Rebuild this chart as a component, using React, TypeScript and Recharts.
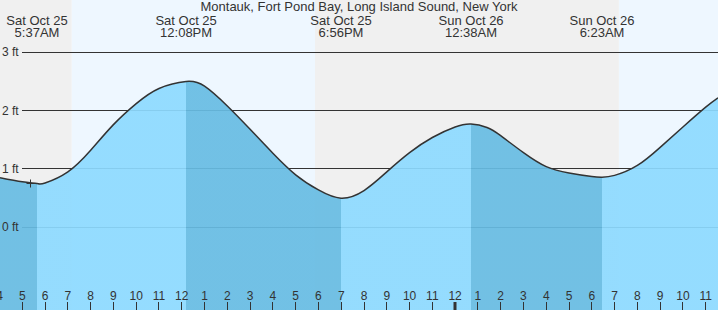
import React from 'react';
import {
  ComposedChart,
  Area,
  XAxis,
  YAxis,
  ReferenceLine,
  ReferenceArea,
  ReferenceDot,
} from 'recharts';

// ---- data (hours since Sat Oct 25 00:00) ----
const TIMES = [4.02, 5, 5.645, 6, 7, 8, 9, 10, 11, 12.19, 13, 14, 15, 16, 17, 18, 18.99, 20, 21, 22, 23, 24, 24.7, 25.4, 26, 27, 28, 29, 30, 30.45, 31, 32, 33, 34, 35, 35.54];
const LEVELS = [0.85, 0.78, 0.75, 0.76, 0.95, 1.32, 1.76, 2.12, 2.38, 2.5, 2.42, 2.08, 1.68, 1.27, 0.9, 0.64, 0.5, 0.63, 0.95, 1.28, 1.54, 1.72, 1.77, 1.71, 1.57, 1.28, 1.04, 0.93, 0.87, 0.86, 0.89, 1.06, 1.37, 1.72, 2.06, 2.22];

const EXTREME_TIMES = [5.645, 12.19, 18.99, 24.7, 30.45];
const EXTREME_KIND = ['L', 'H', 'L', 'H', 'L'];
const EXTREME_DAY = ['Sat Oct 25', 'Sat Oct 25', 'Sat Oct 25', 'Sun Oct 26', 'Sun Oct 26'];
const EXTREME_CLOCK = ['5:37AM', '12:08PM', '6:56PM', '12:38AM', '6:23AM'];

const NIGHT_SPANS = [[4.02, 7.17], [17.85, 31.19]];
const DAY_SPANS = [[7.17, 17.85], [31.19, 35.54]];

const HOUR_TICKS = [4, 5, 6, 7, 8, 9, 10, 11, 12, 13, 14, 15, 16, 17, 18, 19, 20, 21, 22, 23, 24, 25, 26, 27, 28, 29, 30, 31, 32, 33, 34, 35];
const HOUR_LABELS = ['4', '5', '6', '7', '8', '9', '10', '11', '12', '1', '2', '3', '4', '5', '6', '7', '8', '9', '10', '11', '12', '1', '2', '3', '4', '5', '6', '7', '8', '9', '10', '11'];

const Y_TICKS = [0, 1, 2, 3];
const Y_LABELS = ['0 ft', '1 ft', '2 ft', '3 ft'];

const NOW_TIME = 5.34;
const NOW_LEVEL = 0.754;

const TITLE = 'Montauk, Fort Pond Bay, Long Island Sound, New York';

// ---- layout / style ----
const CHART_W = 718;
const CHART_H = 310;
const X_MIN = 4.02;
const X_MAX = 35.54;
const Y_MIN = -1.418;
const Y_MAX = 3.897;
const FONT = '"Liberation Sans", Arial, sans-serif';
const TEXT = '#333333';
const LIGHT_FILL = '#8ddaff';
const DARK_FILL = '#67bce3';
const NIGHT_BG = '#f0f0f0';
const DAY_BG = '#eef7ff';
const GRID_START = 22;

const data = TIMES.map((t, i) => ({ t, v: LEVELS[i] }));

const span = X_MAX - X_MIN;
const bounds = [X_MIN, ...EXTREME_TIMES, X_MAX];
const segColors = bounds.slice(0, -1).map((_, i) => {
  if (i === 0) return EXTREME_KIND[0] === 'L' ? DARK_FILL : LIGHT_FILL;
  return EXTREME_KIND[i - 1] === 'L' ? LIGHT_FILL : DARK_FILL;
});

const HourTick = (props: any) => {
  const { x, y, payload } = props;
  const idx = HOUR_TICKS.indexOf(payload.value);
  const isMid = payload.value === 24;
  const px = isMid ? Math.round(x) : Math.round(x - 0.5) + 0.5;
  return (
    <g>
      <line x1={px} x2={px} y1={y - 8} y2={y} stroke={TEXT} strokeWidth={isMid ? 3 : 1} />
      <text x={x} y={y - 10} textAnchor="middle" fontSize={12} fill={TEXT} fontFamily={FONT}>
        {HOUR_LABELS[idx]}
      </text>
    </g>
  );
};

const ExtremeTick = (props: any) => {
  const { x, y, payload } = props;
  const i = EXTREME_TIMES.indexOf(payload.value);
  return (
    <g>
      <text x={x} y={y + 25} textAnchor="middle" fontSize={13} fill={TEXT} fontFamily={FONT}>
        {EXTREME_DAY[i]}
      </text>
      <text x={x} y={y + 37} textAnchor="middle" fontSize={13} fill={TEXT} fontFamily={FONT}>
        {EXTREME_CLOCK[i]}
      </text>
    </g>
  );
};

const FtTick = (props: any) => {
  const { y, payload } = props;
  const idx = Y_TICKS.indexOf(payload.value);
  return (
    <text x={2} y={y + 4} textAnchor="start" fontSize={12} fill={TEXT} fontFamily={FONT}>
      {Y_LABELS[idx]}
    </text>
  );
};

const NowMark = (props: any) => {
  const { cx, cy } = props;
  const x = Math.round(cx - 0.5) + 0.5;
  const y = Math.round(cy - 0.5) + 0.5;
  return (
    <g>
      <line x1={x} x2={x} y1={y - 4} y2={y + 4} stroke={TEXT} strokeWidth={1} />
      <line x1={x - 4} x2={x + 4} y1={y} y2={y} stroke={TEXT} strokeWidth={1} />
    </g>
  );
};

const GridRow = (props: any) => {
  const { x1, x2, y1 } = props;
  if (typeof y1 !== 'number') return <g />;
  const y = Math.round(y1 - 0.5) + 0.5;
  return <line x1={Math.min(x1, x2) + GRID_START} x2={Math.max(x1, x2)} y1={y} y2={y} stroke={TEXT} strokeWidth={1} />;
};

export default function App() {
  return (
    <div style={{ position: 'absolute', left: 0, top: 0, width: CHART_W, height: CHART_H, fontFamily: FONT }}>
      <ComposedChart width={CHART_W} height={CHART_H} data={data} margin={{ top: 0, right: 0, bottom: 0, left: 0 }}>
        <defs>
          <linearGradient id="tideFill" x1="0" y1="0" x2="1" y2="0">
            {segColors.map((c, i) => [
              <stop key={`a${i}`} offset={(bounds[i] - X_MIN) / span} stopColor={c} />,
              <stop key={`b${i}`} offset={(bounds[i + 1] - X_MIN) / span} stopColor={c} />,
            ])}
          </linearGradient>
        </defs>
        {NIGHT_SPANS.map((s, i) => (
          <ReferenceArea key={`n${i}`} x1={s[0]} x2={s[1]} y1={Y_MIN} y2={Y_MAX} fill={NIGHT_BG} fillOpacity={1} stroke="none" zIndex={-200} />
        ))}
        {DAY_SPANS.map((s, i) => (
          <ReferenceArea key={`d${i}`} x1={s[0]} x2={s[1]} y1={Y_MIN} y2={Y_MAX} fill={DAY_BG} fillOpacity={1} stroke="none" zIndex={-200} />
        ))}
        {Y_TICKS.map((v) => (
          <ReferenceLine key={`g${v}`} y={v} stroke={TEXT} shape={(p: any) => <GridRow {...p} />} zIndex={-100} />
        ))}
        <XAxis
          dataKey="t"
          type="number"
          domain={[X_MIN, X_MAX]}
          allowDataOverflow
          ticks={HOUR_TICKS}
          interval={0}
          mirror
          tickSize={0}
          tickMargin={0}
          axisLine={false}
          tickLine={false}
          stroke="none"
          tick={<HourTick />}
          zIndex={500}
        />
        <XAxis
          xAxisId="top"
          dataKey="t"
          type="number"
          orientation="top"
          domain={[X_MIN, X_MAX]}
          allowDataOverflow
          ticks={EXTREME_TIMES}
          interval={0}
          mirror
          tickSize={0}
          tickMargin={0}
          axisLine={false}
          tickLine={false}
          stroke="none"
          tick={<ExtremeTick />}
          zIndex={500}
        />
        <YAxis
          type="number"
          domain={[Y_MIN, Y_MAX]}
          allowDataOverflow
          ticks={Y_TICKS}
          interval={0}
          mirror
          tickSize={0}
          tickMargin={0}
          axisLine={false}
          tickLine={false}
          stroke="none"
          tick={<FtTick />}
          zIndex={500}
        />
        <Area
          type="natural"
          dataKey="v"
          baseValue={Y_MIN}
          fill="url(#tideFill)"
          fillOpacity={0.92}
          stroke="#333333"
          strokeWidth={1.5}
          isAnimationActive={false}
          dot={false}
          activeDot={false}
          zIndex={100}
        />
        <ReferenceDot x={NOW_TIME} y={NOW_LEVEL} r={4} shape={<NowMark />} zIndex={600} />
      </ComposedChart>
      <div
        style={{
          position: 'absolute',
          left: 0,
          top: 0,
          width: CHART_W,
          textAlign: 'center',
          fontSize: 13,
          lineHeight: '13px',
          color: TEXT,
          fontFamily: FONT,
          pointerEvents: 'none',
        }}
      >
        {TITLE}
      </div>
    </div>
  );
}
